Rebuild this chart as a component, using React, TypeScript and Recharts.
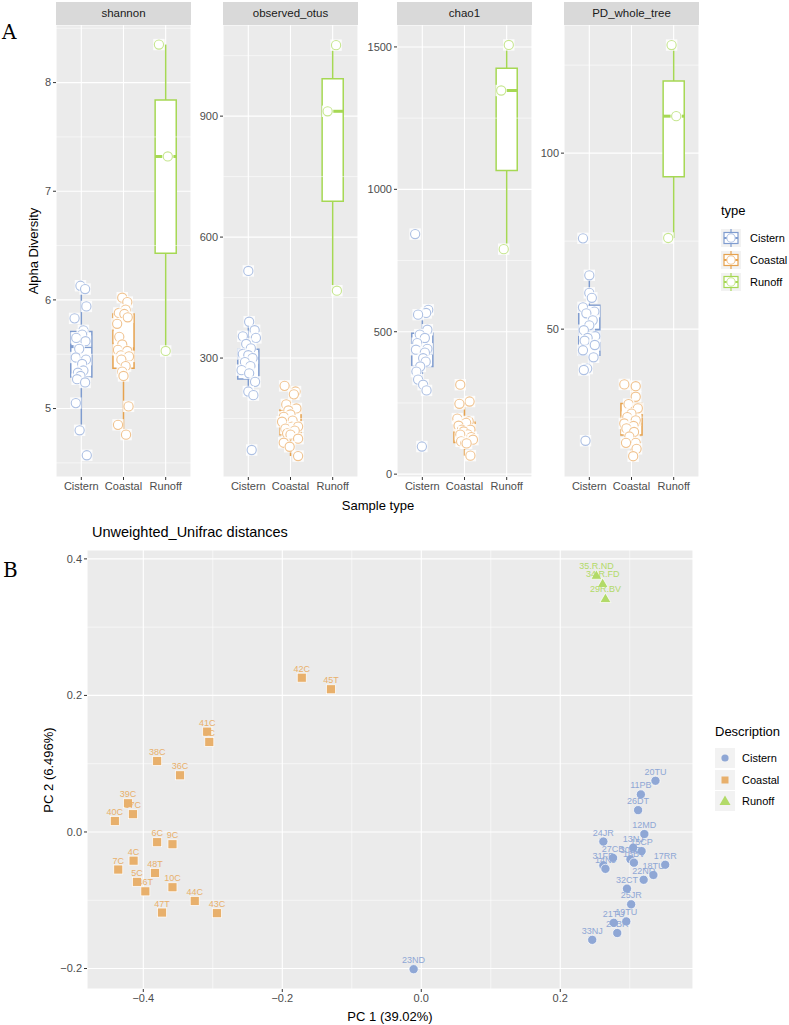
import React from 'react';
import {
  ComposedChart,
  ScatterChart,
  Scatter,
  XAxis,
  YAxis,
  CartesianGrid,
  ReferenceArea,
  ReferenceLine,
} from 'recharts';

const groups = ['Cistern', 'Coastal', 'Runoff'];

// box stats per group: [lower whisker, q1, median, q3, upper whisker]
const shannonBox = [[4.8, 5.29, 5.57, 5.71, 6.13], [4.76, 5.37, 5.55, 5.87, 6.02], [5.53, 6.43, 7.32, 7.84, 8.35]];
const otusBox = [[208, 248, 299, 322, 390], [57, 110, 140, 171, 231], [467, 689, 912, 993, 1076]];
const chaoBox = [[294, 378, 425, 495, 577], [65, 111, 150, 182, 255], [790, 1066, 1347, 1425, 1507]];
const pdBox = [[38.4, 42.6, 49.7, 56.8, 65.3], [13.9, 19.9, 23.0, 28.9, 34.3], [75.9, 93.3, 110.5, 120.5, 130.7]];

// jittered samples: [offset from category, value]
const shannonCistern = [[-0.02, 6.13], [0.09, 6.1], [0.12, 5.94], [-0.16, 5.83], [0.05, 5.72], [0.02, 5.68], [-0.12, 5.65], [0.1, 5.62], [-0.05, 5.55], [-0.13, 5.47], [0.11, 5.45], [0.02, 5.41], [0.05, 5.35], [-0.08, 5.33], [-0.02, 5.3], [-0.1, 5.27], [0.09, 5.24], [-0.13, 5.05], [-0.04, 4.8], [0.13, 4.57]];
const shannonCoastal = [[-0.03, 6.02], [0.09, 5.98], [0.05, 5.91], [-0.11, 5.88], [0.02, 5.87], [0.1, 5.84], [-0.15, 5.78], [-0.1, 5.66], [-0.03, 5.59], [-0.13, 5.54], [0.09, 5.53], [-0.06, 5.49], [0.13, 5.48], [-0.05, 5.45], [0.05, 5.39], [-0.03, 5.34], [0.0, 5.3], [0.12, 5.02], [-0.13, 4.85], [0.06, 4.76]];
const shannonRunoff = [[-0.16, 8.35], [0.05, 7.32], [0.0, 5.53]];

const otusCistern = [[0.0, 516], [0.02, 390], [0.15, 369], [-0.13, 354], [0.18, 350], [-0.05, 335], [0.06, 324], [-0.13, 310], [0.0, 307], [0.1, 300], [-0.08, 290], [0.05, 280], [-0.16, 270], [0.02, 262], [0.16, 241], [0.0, 217], [0.12, 208], [0.08, 72]];
const otusCoastal = [[-0.14, 231], [0.12, 217], [0.08, 210], [-0.1, 185], [0.14, 175], [-0.05, 170], [0.0, 160], [-0.16, 154], [0.05, 145], [-0.2, 142], [0.04, 130], [0.18, 130], [-0.12, 125], [0.1, 120], [-0.08, 113], [0.0, 110], [0.18, 100], [-0.16, 90], [-0.02, 80], [0.18, 57]];
const otusRunoff = [[0.08, 1076], [-0.12, 912], [0.1, 467]];

const chaoCistern = [[-0.17, 843], [0.14, 577], [0.09, 566], [-0.1, 560], [0.12, 507], [-0.06, 490], [0.06, 478], [-0.12, 460], [0.12, 440], [-0.15, 437], [0.06, 427], [0.02, 407], [0.08, 395], [-0.05, 378], [-0.14, 360], [-0.1, 332], [0.02, 314], [0.1, 294], [-0.01, 97]];
const chaoCoastal = [[-0.1, 314], [0.12, 255], [-0.12, 247], [-0.17, 195], [0.1, 185], [0.04, 180], [-0.14, 170], [-0.06, 156], [0.14, 156], [-0.02, 150], [0.08, 140], [-0.1, 139], [0.16, 130], [0.2, 121], [-0.08, 115], [0.02, 109], [0.05, 108], [0.14, 65]];
const chaoRunoff = [[0.05, 1507], [-0.13, 1347], [-0.07, 790]];

const pdCistern = [[-0.15, 75.8], [0.0, 65.3], [0.0, 60.3], [0.06, 58.9], [-0.15, 56.2], [0.12, 55], [-0.07, 54.5], [0.08, 52.5], [0.0, 51.1], [-0.13, 49.7], [0.14, 48], [-0.04, 47.5], [-0.11, 46.7], [0.13, 45.5], [-0.15, 44], [0.1, 42], [-0.05, 38.8], [-0.13, 38.4], [-0.09, 18.3]];
const pdCoastal = [[-0.17, 34.3], [0.1, 33.8], [0.1, 30.8], [-0.07, 28.7], [0.15, 27.5], [0.0, 26], [-0.1, 25], [0.1, 24.1], [-0.17, 23.2], [0.05, 22.5], [-0.12, 21.8], [0.06, 20.8], [-0.05, 19.5], [0.1, 17.7], [-0.13, 17.7], [0.12, 16], [0.04, 13.9]];
const pdRunoff = [[-0.05, 130.7], [0.06, 110.5], [-0.13, 75.9]];

// PCoA
const cisternNames = ['20TU', '11PB', '26DT', '12MD', '24JR', '13NJ', '15CP', '27CB', '30LD', '16BV', '31FP', '14NJ', '17RR', '18TU', '22ND', '32CT', '25JR', '19TU', '21TU', '28BR', '33NJ', '23ND'];
const cisternPC1 = [0.337, 0.316, 0.312, 0.321, 0.262, 0.305, 0.317, 0.276, 0.301, 0.306, 0.262, 0.265, 0.351, 0.334, 0.32, 0.296, 0.302, 0.295, 0.277, 0.282, 0.246, -0.011];
const cisternPC2 = [0.075, 0.055, 0.032, -0.003, -0.014, -0.023, -0.028, -0.038, -0.04, -0.045, -0.049, -0.054, -0.048, -0.063, -0.07, -0.083, -0.106, -0.131, -0.133, -0.148, -0.158, -0.201];
const coastalNames = ['42C', '45T', '41C', '8C', '38C', '36C', '39C', '37C', '40C', '6C', '9C', '4C', '7C', '48T', '5C', '46T', '10C', '44C', '47T', '43C'];
const coastalPC1 = [-0.172, -0.13, -0.308, -0.305, -0.38, -0.347, -0.422, -0.415, -0.441, -0.38, -0.358, -0.414, -0.436, -0.383, -0.409, -0.397, -0.358, -0.326, -0.373, -0.294];
const coastalPC2 = [0.226, 0.209, 0.147, 0.132, 0.104, 0.083, 0.042, 0.026, 0.016, -0.015, -0.018, -0.042, -0.055, -0.06, -0.073, -0.087, -0.081, -0.101, -0.118, -0.119];
const runoffNames = ['35.R.ND', '34.R.FD', '29R.BV'];
const runoffPC1 = [0.252, 0.261, 0.265];
const runoffPC2 = [0.376, 0.364, 0.342];

const boxColors = ['#7F9CCF', '#E6A24E', '#A6D854'];
const ringColors = ['#ADC0E3', '#F0C28E', '#C6E68F'];
const pcoaColors = ['#8FA7D5', '#E8B06C', '#B2DA68'];

const FONT = '"Liberation Sans", Arial, sans-serif';
const PANEL_TOP = 25;
const PANEL_H = 452;
const PANEL_W = 135;
const AXW = 40;

const ring = (color: string) => (props: any) => {
  const { cx, cy } = props;
  return (
    <g>
      <rect x={cx - 5.7} y={cy - 5.7} width={11.4} height={11.4} fill="#fff" fillOpacity={0.85} />
      <circle cx={cx} cy={cy} r={4.6} fill="#fff" stroke={color} strokeWidth={1.1} />
    </g>
  );
};

function Facet({ title, left, domain, ticks, minor, box, points }: any) {
  return (
    <>
      <div
        style={{
          position: 'absolute', left, top: 2, width: PANEL_W, height: 23, background: '#D9D9D9',
          color: '#1A1A1A', fontSize: 11.5, lineHeight: '23px', textAlign: 'center',
        }}
      >
        {title}
      </div>
      <div style={{ position: 'absolute', left: left - AXW, top: PANEL_TOP }}>
        <ComposedChart width={PANEL_W + AXW} height={PANEL_H + 24} margin={{ top: 0, right: 0, bottom: 0, left: 0 }}>
          <CartesianGrid fill="#EBEBEB" stroke="#fff" strokeWidth={1.1} />
          <XAxis
            type="number" dataKey="x" domain={[0.4, 3.6]} ticks={[1, 2, 3]} allowDataOverflow
            tickFormatter={(v: number) => groups[v - 1]} height={24} axisLine={false} stroke="#4D4D4D"
            tickLine={{ stroke: '#333' }} tickSize={3} tickMargin={2}
            tick={{ fill: '#4D4D4D', fontSize: 11 }} interval={0}
          />
          <YAxis
            type="number" dataKey="y" domain={domain} ticks={ticks} allowDataOverflow width={AXW}
            axisLine={false} tickLine={{ stroke: '#333' }} tickSize={3} tickMargin={2} stroke="#4D4D4D"
            tick={{ fill: '#4D4D4D', fontSize: 11 }} interval={0}
          />
          {minor.map((v: number) => (
            <ReferenceLine key={'m' + v} y={v} stroke="#fff" strokeWidth={0.55} />
          ))}
          {box.map((b: number[], i: number) => (
            <ReferenceArea
              key={'b' + i} x1={i + 0.75} x2={i + 1.25} y1={b[1]} y2={b[3]}
              fill="#fff" fillOpacity={1} stroke={boxColors[i]} strokeWidth={1.5} strokeOpacity={1}
            />
          ))}
          {box.map((b: number[], i: number) => (
            <ReferenceLine key={'lo' + i} segment={[{ x: i + 1, y: b[0] }, { x: i + 1, y: b[1] }]} stroke={boxColors[i]} strokeWidth={1.5} />
          ))}
          {box.map((b: number[], i: number) => (
            <ReferenceLine key={'hi' + i} segment={[{ x: i + 1, y: b[3] }, { x: i + 1, y: b[4] }]} stroke={boxColors[i]} strokeWidth={1.5} />
          ))}
          {box.map((b: number[], i: number) => (
            <ReferenceLine key={'md' + i} segment={[{ x: i + 0.75, y: b[2] }, { x: i + 1.25, y: b[2] }]} stroke={boxColors[i]} strokeWidth={3} />
          ))}
          {points.map((pts: number[][], i: number) => (
            <Scatter
              key={'s' + i}
              data={pts.map((p) => ({ x: i + 1 + p[0], y: p[1] }))}
              shape={ring(ringColors[i])}
              isAnimationActive={false}
            />
          ))}
        </ComposedChart>
      </div>
    </>
  );
}

const pcoaShape = (kind: number) => (props: any) => {
  const { cx, cy, payload } = props;
  const c = pcoaColors[kind];
  let mark;
  if (kind === 0) mark = <circle cx={cx} cy={cy} r={4.6} fill={c} stroke="#fff" strokeWidth={0.7} />;
  else if (kind === 1) mark = <rect x={cx - 4.5} y={cy - 4.5} width={9} height={9} fill={c} stroke="#fff" strokeWidth={0.7} />;
  else mark = <polygon points={`${cx},${cy - 5.5} ${cx - 5.5},${cy + 4} ${cx + 5.5},${cy + 4}`} fill={c} stroke="#fff" strokeWidth={0.7} />;
  return (
    <g>
      {mark}
      <text x={cx} y={cy - 6} textAnchor="middle" fontSize={9} fill={c} fontFamily={FONT}>
        {payload.name}
      </text>
    </g>
  );
};

const fmt = (v: number) => (v < 0 ? '\u2212' + Math.abs(v).toFixed(1) : v.toFixed(1));

function LegendKeyA({ i }: { i: number }) {
  return (
    <svg width={20} height={18} style={{ display: 'block' }}>
      <rect width={20} height={18} fill="#F2F2F2" />
      <line x1={10} x2={10} y1={0} y2={18} stroke={boxColors[i]} strokeWidth={1.2} />
      <rect x={3} y={3.5} width={14} height={11} fill="#fff" stroke={boxColors[i]} strokeWidth={1.2} />
      <line x1={3} x2={17} y1={9} y2={9} stroke={boxColors[i]} strokeWidth={2} />
      <circle cx={10} cy={9} r={4.2} fill="#fff" stroke={ringColors[i]} strokeWidth={1.1} />
    </svg>
  );
}

function LegendKeyB({ i }: { i: number }) {
  const c = pcoaColors[i];
  return (
    <svg width={20} height={20} style={{ display: 'block' }}>
      <rect width={20} height={20} fill="#F2F2F2" />
      {i === 0 && <circle cx={10} cy={10} r={3.6} fill={c} />}
      {i === 1 && <rect x={6.5} y={6.5} width={7} height={7} fill={c} />}
      {i === 2 && <polygon points="10,4.5 4.5,14 15.5,14" fill={c} />}
    </svg>
  );
}

export default function App() {
  const cisternData = cisternNames.map((n, i) => ({ name: n, x: cisternPC1[i], y: cisternPC2[i] }));
  const coastalData = coastalNames.map((n, i) => ({ name: n, x: coastalPC1[i], y: coastalPC2[i] }));
  const runoffData = runoffNames.map((n, i) => ({ name: n, x: runoffPC1[i], y: runoffPC2[i] }));

  return (
    <div style={{ position: 'absolute', left: 0, top: 0, width: 789, height: 1025, background: '#fff', fontFamily: FONT, overflow: 'hidden' }}>
      {/* panel A */}
      <div style={{ position: 'absolute', left: 2, top: 20, fontFamily: 'DejaVu Serif, serif', fontSize: 20 }}>A</div>
      <Facet title="shannon" left={56} domain={[4.37, 8.53]} ticks={[5, 6, 7, 8]} minor={[4.5, 5.5, 6.5, 7.5, 8.5]} box={shannonBox} points={[shannonCistern, shannonCoastal, shannonRunoff]} />
      <Facet title="observed_otus" left={223} domain={[5, 1126]} ticks={[300, 600, 900]} minor={[150, 450, 750, 1050]} box={otusBox} points={[otusCistern, otusCoastal, otusRunoff]} />
      <Facet title="chao1" left={397} domain={[-10, 1577]} ticks={[0, 500, 1000, 1500]} minor={[250, 750, 1250]} box={chaoBox} points={[chaoCistern, chaoCoastal, chaoRunoff]} />
      <Facet title="PD_whole_tree" left={564} domain={[8, 136.4]} ticks={[50, 100]} minor={[25, 75, 125]} box={pdBox} points={[pdCistern, pdCoastal, pdRunoff]} />
      <div style={{ position: 'absolute', left: 33, top: 251, transform: 'translate(-50%, -50%) rotate(-90deg)', fontSize: 13, whiteSpace: 'nowrap' }}>
        Alpha Diversity
      </div>
      <div style={{ position: 'absolute', left: 378, top: 505, transform: 'translate(-50%, -50%)', fontSize: 13, whiteSpace: 'nowrap' }}>
        Sample type
      </div>
      <div style={{ position: 'absolute', left: 721, top: 203, fontSize: 13 }}>type</div>
      {groups.map((g, i) => (
        <div key={g} style={{ position: 'absolute', left: 721, top: 229 + i * 22, display: 'flex', alignItems: 'center' }}>
          <LegendKeyA i={i} />
          <span style={{ marginLeft: 9, fontSize: 11, color: '#000' }}>{g}</span>
        </div>
      ))}

      {/* panel B */}
      <div style={{ position: 'absolute', left: 3, top: 558, fontFamily: 'DejaVu Serif, serif', fontSize: 20 }}>B</div>
      <div style={{ position: 'absolute', left: 92, top: 524, fontSize: 14.5, whiteSpace: 'nowrap' }}>Unweighted_Unifrac distances</div>
      <div style={{ position: 'absolute', left: 0, top: 520 }}>
        <ScatterChart width={789} height={505} margin={{ top: 30, right: 96, bottom: 16, left: 0 }}>
          <CartesianGrid fill="#EBEBEB" stroke="#fff" strokeWidth={1.1} />
          <XAxis
            type="number" dataKey="x" domain={[-0.481, 0.391]} ticks={[-0.4, -0.2, 0, 0.2]} allowDataOverflow
            tickFormatter={fmt} height={20} axisLine={false} tickLine={{ stroke: '#333' }} tickSize={3} tickMargin={2}
            stroke="#4D4D4D" tick={{ fill: '#4D4D4D', fontSize: 11 }} interval={0}
          />
          <YAxis
            type="number" dataKey="y" domain={[-0.23, 0.413]} ticks={[-0.2, 0, 0.2, 0.4]} allowDataOverflow
            tickFormatter={fmt} width={87} axisLine={false} tickLine={{ stroke: '#333' }} tickSize={3} tickMargin={2}
            stroke="#4D4D4D" tick={{ fill: '#4D4D4D', fontSize: 11 }} interval={0}
          />
          {[-0.3, -0.1, 0.1, 0.3].map((v) => (
            <ReferenceLine key={'vx' + v} x={v} stroke="#fff" strokeWidth={0.55} />
          ))}
          {[-0.1, 0.1, 0.3].map((v) => (
            <ReferenceLine key={'vy' + v} y={v} stroke="#fff" strokeWidth={0.55} />
          ))}
          <Scatter data={cisternData} shape={pcoaShape(0)} isAnimationActive={false} />
          <Scatter data={coastalData} shape={pcoaShape(1)} isAnimationActive={false} />
          <Scatter data={runoffData} shape={pcoaShape(2)} isAnimationActive={false} />
        </ScatterChart>
      </div>
      <div style={{ position: 'absolute', left: 48, top: 770, transform: 'translate(-50%, -50%) rotate(-90deg)', fontSize: 13, whiteSpace: 'nowrap' }}>
        PC 2 (6.496%)
      </div>
      <div style={{ position: 'absolute', left: 390, top: 1016, transform: 'translate(-50%, -50%)', fontSize: 13, whiteSpace: 'nowrap' }}>
        PC 1 (39.02%)
      </div>
      <div style={{ position: 'absolute', left: 715, top: 724, fontSize: 13 }}>Description</div>
      {groups.map((g, i) => (
        <div key={'d' + g} style={{ position: 'absolute', left: 715, top: 748 + i * 21.5, display: 'flex', alignItems: 'center' }}>
          <LegendKeyB i={i} />
          <span style={{ marginLeft: 7, fontSize: 11, color: '#000' }}>{g}</span>
        </div>
      ))}
    </div>
  );
}
